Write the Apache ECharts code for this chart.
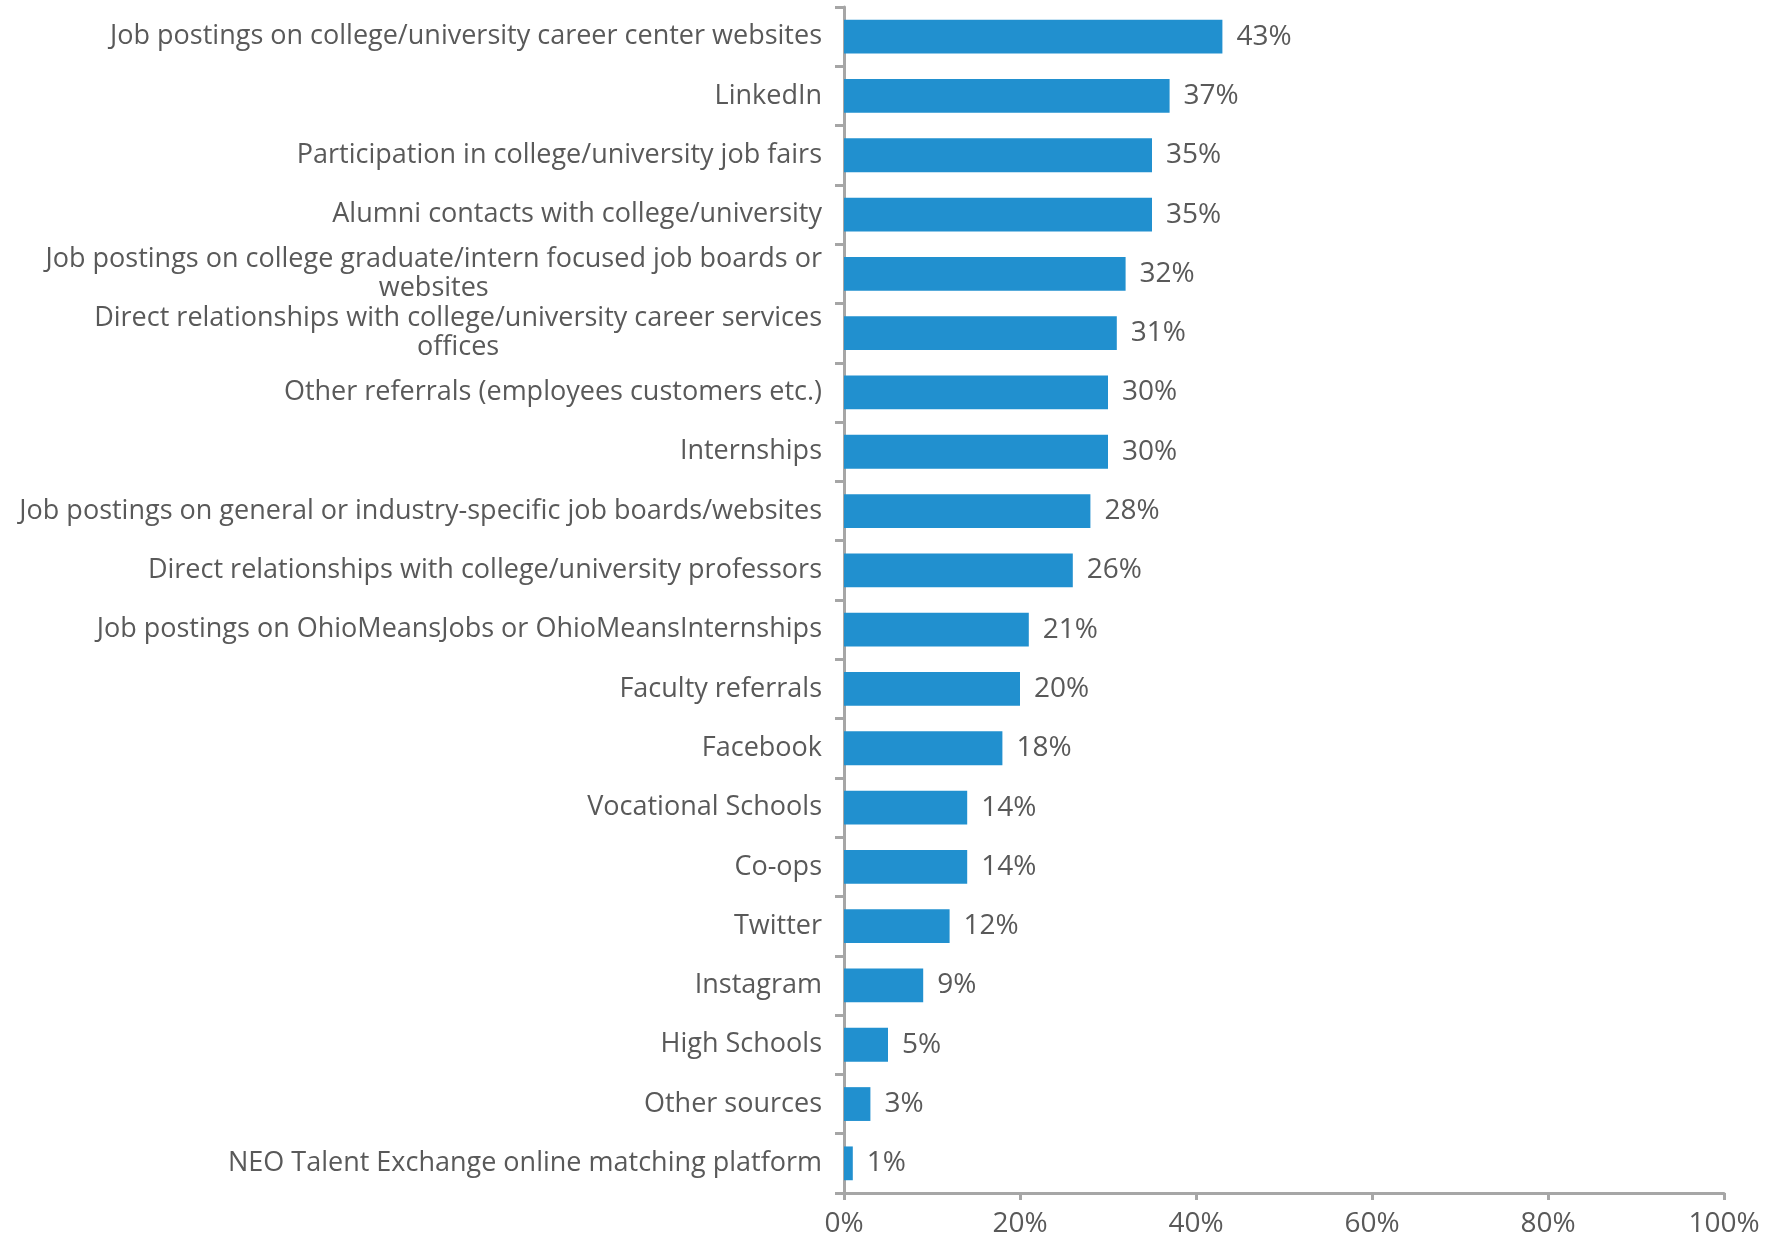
<!DOCTYPE html>
<html>
<head>
<meta charset="utf-8">
<script src="https://cdn.jsdelivr.net/npm/echarts@6/dist/echarts.min.js"></script>
<style>
  html, body { margin: 0; padding: 0; background: #ffffff; }
  #chart { width: 1776px; height: 1238px; }
</style>
</head>
<body>
<div id="chart"></div>
<script>
// Recruitment sources used, share of respondents
const categories = [
  'Job postings on college/university career center websites',
  'LinkedIn',
  'Participation in college/university job fairs',
  'Alumni contacts with college/university',
  'Job postings on college graduate/intern focused job boards or\nwebsites',
  'Direct relationships with college/university career services\noffices',
  'Other referrals (employees customers etc.)',
  'Internships',
  'Job postings on general or industry-specific job boards/websites',
  'Direct relationships with college/university professors',
  'Job postings on OhioMeansJobs or OhioMeansInternships',
  'Faculty referrals',
  'Facebook',
  'Vocational Schools',
  'Co-ops',
  'Twitter',
  'Instagram',
  'High Schools',
  'Other sources',
  'NEO Talent Exchange online matching platform'
];
const values = [43, 37, 35, 35, 32, 31, 30, 30, 28, 26, 21, 20, 18, 14, 14, 12, 9, 5, 3, 1];
const xTicks = [0, 20, 40, 60, 80, 100];

const FONT = '"Open Sans", Lato, sans-serif';
const TEXT = '#595959';
const AXIS = '#a6a6a6';

const chart = echarts.init(document.getElementById('chart'), null, { renderer: 'canvas' });
chart.setOption({
  animation: false,
  grid: { left: 844, right: 52, top: 7, bottom: 44, containLabel: false },
  xAxis: {
    type: 'value',
    min: xTicks[0],
    max: xTicks[xTicks.length - 1],
    interval: 20,
    splitLine: { show: false },
    axisLine: { show: true, lineStyle: { color: AXIS, width: 3 } },
    axisTick: { show: true, length: 7, lineStyle: { color: AXIS, width: 3 } },
    axisLabel: {
      formatter: v => v + '%',
      color: TEXT, fontFamily: FONT, fontSize: 28, margin: 17
    }
  },
  yAxis: {
    type: 'category',
    inverse: true,
    data: categories,
    axisLine: { show: true, lineStyle: { color: AXIS, width: 3 } },
    axisTick: { show: true, length: 9, lineStyle: { color: AXIS, width: 3 } },
    axisLabel: {
      color: TEXT, fontFamily: FONT, fontSize: 27, margin: 22,
      lineHeight: 29,
      formatter: v => v.split('\n').map(s => '{c|' + s + '}').join('\n'),
      rich: { c: { align: 'center', color: TEXT, fontFamily: FONT, fontSize: 27, lineHeight: 29 } }
    }
  },
  series: [{
    type: 'bar',
    data: values,
    barWidth: '57%',
    itemStyle: { color: '#2190cf' },
    label: {
      show: true,
      position: 'right',
      distance: 14,
      formatter: p => p.value + '%',
      color: TEXT, fontFamily: FONT, fontSize: 28
    }
  }]
});
</script>
</body>
</html>
